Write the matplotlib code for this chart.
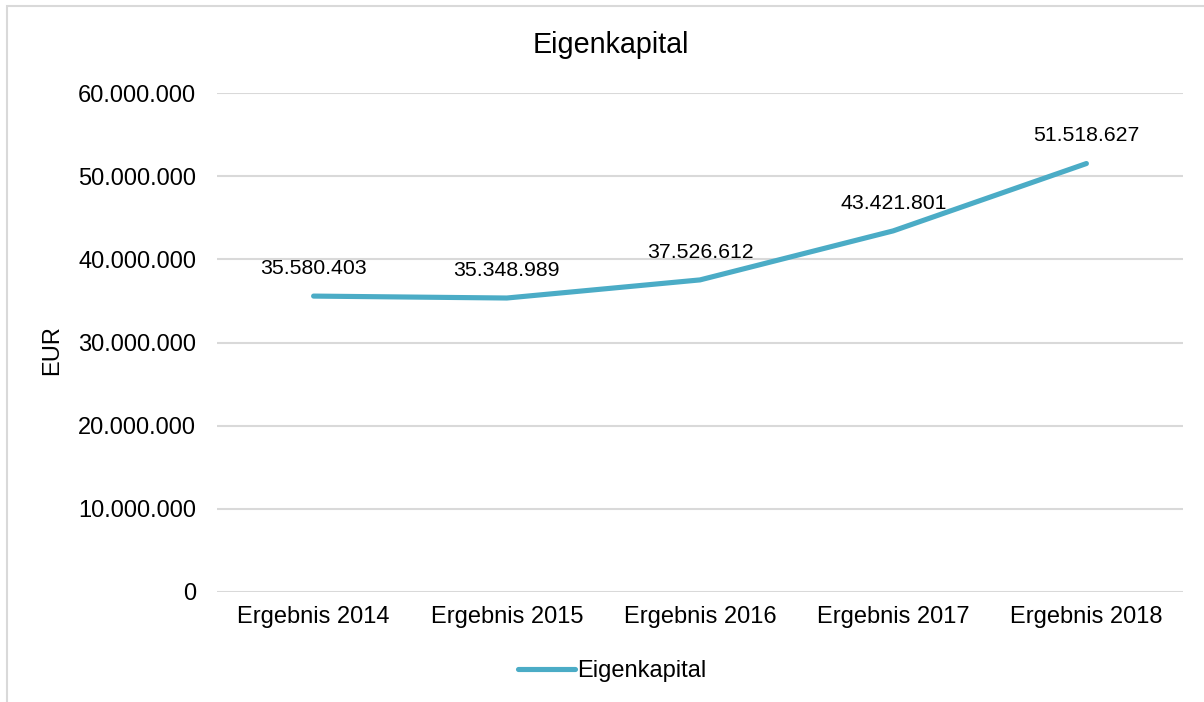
import matplotlib.pyplot as plt
from matplotlib.patches import Rectangle
from matplotlib.ticker import FuncFormatter

plt.rcParams['font.family'] = ['Liberation Sans', 'DejaVu Sans']

categories = ['Ergebnis 2014', 'Ergebnis 2015', 'Ergebnis 2016', 'Ergebnis 2017', 'Ergebnis 2018']
eigenkapital = [35580403, 35348989, 37526612, 43421801, 51518627]
yticks = [0, 10000000, 20000000, 30000000, 40000000, 50000000, 60000000]

line_color = '#4BACC6'
grid_color = '#D9D9D9'


def de_fmt(v, pos=None):
    return f'{int(round(v)):,}'.replace(',', '.')


fig = plt.figure(figsize=(12.04, 7.02), dpi=100)
ax = fig.add_axes([217 / 1204, 1 - 592 / 702, 966 / 1204, 499 / 702])

xs = list(range(len(categories)))
ax.plot(xs, eigenkapital, color=line_color, lw=3.7, solid_capstyle='round',
        solid_joinstyle='round', label='Eigenkapital', zorder=3)
for x, v in zip(xs, eigenkapital):
    ax.annotate(de_fmt(v), (x, v), xytext=(0, 20), textcoords='offset points',
                ha='center', va='center', fontsize=15.3, color='black')

ax.set_xlim(-0.5, len(categories) - 0.5)
ax.set_ylim(0, 60000000)
ax.set_yticks(yticks)
ax.yaxis.set_major_formatter(FuncFormatter(de_fmt))
ax.set_xticks(xs)
ax.set_xticklabels(categories)
ax.tick_params(axis='both', length=0, labelsize=17, colors='black')
ax.tick_params(axis='y', pad=15)
ax.tick_params(axis='x', pad=10)
ax.grid(axis='y', color=grid_color, lw=1.5)
ax.set_axisbelow(True)
for s in ax.spines.values():
    s.set_visible(False)

ax.set_ylabel('EUR', fontsize=17)
ax.yaxis.set_label_coords(-154 / 966, 0.485)

fig.text(611 / 1204, 1 - 45 / 702, 'Eigenkapital', ha='center', va='center', fontsize=20.7)

leg = ax.legend(loc='center', bbox_to_anchor=(612 / 1204, 1 - 671 / 702),
                bbox_transform=fig.transFigure, frameon=False, fontsize=17,
                handlelength=2.4, handletextpad=0.1)

fig.patches.append(Rectangle((7 / 1204, -0.1), 1.2, 1 - 6 / 702 + 0.1,
                             transform=fig.transFigure, fill=False,
                             edgecolor=grid_color, lw=1.5))

fig.savefig('out.png', dpi=100)
